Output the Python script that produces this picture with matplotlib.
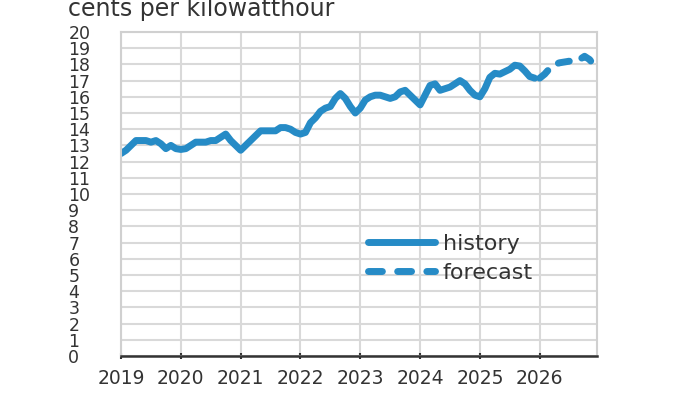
import matplotlib.pyplot as plt
from matplotlib.lines import Line2D
import numpy as np

# monthly residential electricity price, cents per kWh
hist_vals = [
    12.5, 12.7, 13.0, 13.3, 13.3, 13.3, 13.2, 13.3, 13.1, 12.8, 13.0, 12.8,   # 2019
    12.75, 12.8, 13.0, 13.2, 13.2, 13.2, 13.3, 13.3, 13.5, 13.7, 13.3, 13.0,  # 2020
    12.7, 13.0, 13.3, 13.6, 13.9, 13.9, 13.9, 13.9, 14.1, 14.1, 14.0, 13.8,   # 2021
    13.7, 13.8, 14.4, 14.7, 15.1, 15.3, 15.4, 15.9, 16.2, 15.9, 15.4, 15.0,   # 2022
    15.3, 15.8, 16.0, 16.1, 16.1, 16.0, 15.9, 16.0, 16.3, 16.4, 16.1, 15.8,   # 2023
    15.5, 16.1, 16.7, 16.8, 16.4, 16.5, 16.6, 16.8, 17.0, 16.8, 16.4, 16.1,   # 2024
    16.0, 16.5, 17.2, 17.45, 17.4, 17.55, 17.7, 17.95, 17.9, 17.6, 17.25, 17.15,  # 2025
]
fcst_vals = [17.15, 17.4, 17.75, 18.0, 18.1, 18.15, 18.2, 18.2, 18.3, 18.5, 18.3, 17.9]  # 2026

hist_t = 2019 + np.arange(len(hist_vals)) / 12
fcst_t = 2026 + np.arange(len(fcst_vals)) / 12

years = list(range(2019, 2027))
yticks = list(range(0, 21))

blue = '#268bc6'
txt = '#333333'
plt.rcParams['font.family'] = ['DejaVu Sans']

fig = plt.figure(figsize=(7, 3.94), dpi=100)
ax = fig.add_axes([0.1729, 0.0964, 0.680, 0.8224])

ax.plot(hist_t, hist_vals, color=blue, linewidth=5, solid_capstyle='round',
        solid_joinstyle='round')
ax.plot(fcst_t, fcst_vals, color=blue, linewidth=5, linestyle=(0, (1.6, 1.9)),
        dash_capstyle='round')

ax.set_xlim(2019, 2026 + 11.5 / 12)
ax.set_ylim(0, 20)
ax.set_xticks(years)
ax.set_xticklabels([str(y) for y in years])
ax.set_yticks(yticks)
ax.set_yticklabels([str(v) for v in yticks])
ax.grid(True, color='#d9d9d9', linewidth=1.5)
ax.set_axisbelow(True)

for side in ['top', 'right', 'left']:
    ax.spines[side].set_color('#d0d0d0')
    ax.spines[side].set_linewidth(1.5)
ax.spines['bottom'].set_color(txt)
ax.spines['bottom'].set_linewidth(1.8)

ax.tick_params(axis='x', labelsize=13.5, length=5, width=1.5, direction='inout', pad=7,
               colors=txt)
ax.tick_params(axis='y', labelsize=12.5, length=0, pad=38, colors=txt)
for lab in ax.get_yticklabels():
    lab.set_horizontalalignment('left')

# legend handles with the longer dash look of the reference key
h_hist = Line2D([], [], color=blue, linewidth=5, solid_capstyle='round')
h_fcst = Line2D([], [], color=blue, linewidth=5, linestyle=(0, (2.0, 2.2)),
                dash_capstyle='round')
leg = ax.legend([h_hist, h_fcst], ['history', 'forecast'], loc='upper left',
                bbox_to_anchor=(0.519, 0.378), frameon=False,
                fontsize=16, handlelength=3.0, handletextpad=0.35, labelspacing=0.42,
                borderpad=0, borderaxespad=0)
for t in leg.get_texts():
    t.set_color(txt)

fig.text(68 / 700, 1 - 16 / 394, 'cents per kilowatthour', fontsize=17,
         color=txt, va='baseline')

fig.savefig('out.png', dpi=100)
